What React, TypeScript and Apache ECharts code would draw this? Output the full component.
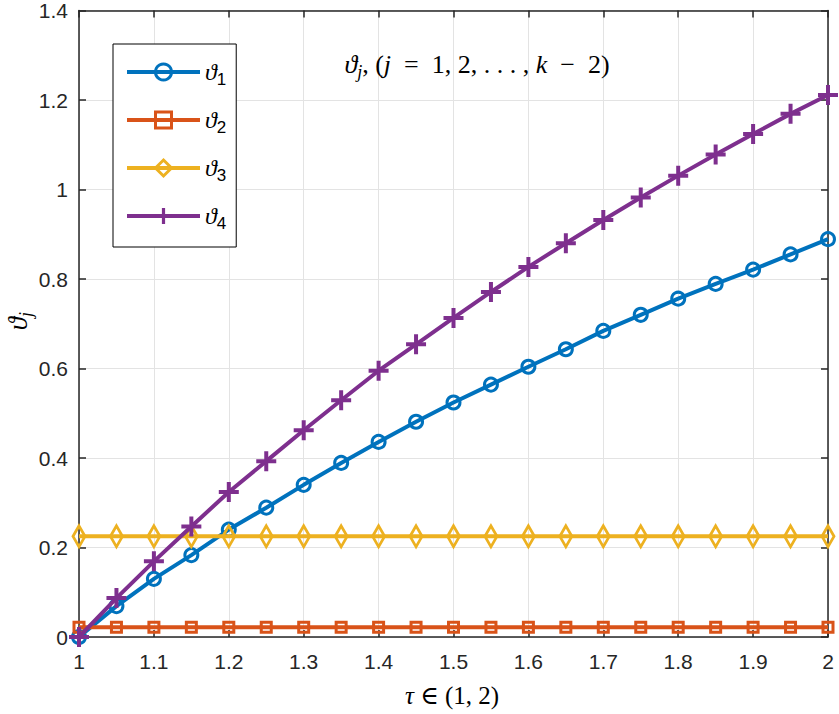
import React, { useEffect, useRef } from 'react';
import * as echarts from 'echarts';

const tau = [1, 1.05, 1.1, 1.15, 1.2, 1.25, 1.3, 1.35, 1.4, 1.45, 1.5, 1.55, 1.6, 1.65, 1.7, 1.75, 1.8, 1.85, 1.9, 1.95, 2];
const theta1 = [0, 0.069, 0.13, 0.183, 0.24, 0.289, 0.34, 0.389, 0.436, 0.481, 0.524, 0.564, 0.604, 0.643, 0.684, 0.72, 0.756, 0.789, 0.821, 0.855, 0.889];
const theta2 = [0.022, 0.022, 0.022, 0.022, 0.022, 0.022, 0.022, 0.022, 0.022, 0.022, 0.022, 0.022, 0.022, 0.022, 0.022, 0.022, 0.022, 0.022, 0.022, 0.022, 0.022];
const theta3 = [0.225, 0.225, 0.225, 0.225, 0.225, 0.225, 0.225, 0.225, 0.225, 0.225, 0.225, 0.225, 0.225, 0.225, 0.225, 0.225, 0.225, 0.225, 0.225, 0.225, 0.225];
const theta4 = [0, 0.087, 0.169, 0.247, 0.324, 0.393, 0.462, 0.529, 0.595, 0.654, 0.713, 0.771, 0.827, 0.88, 0.932, 0.982, 1.031, 1.078, 1.124, 1.169, 1.211];
const seriesNames = ['ϑ1', 'ϑ2', 'ϑ3', 'ϑ4'];
const colors = ['#0072BD', '#D95319', '#EDB120', '#7E2F8E'];

const xMin = 1, xMax = 2, xStep = 0.1;
const yMin = 0, yMax = 1.4, yStep = 0.2;

const PLUS = 'path://M4,0 h2 v4 h4 v2 h-4 v4 h-2 v-4 h-4 v-2 h4 z';
const SANS = '"Liberation Sans", Arial, Helvetica, sans-serif';
const SERIF = '"Liberation Serif", "DejaVu Serif", "Times New Roman", serif';
const AX = '#262626';

function mkSeries(i: number, data: number[], symbol: string, size: any, filled: boolean) {
  const c = colors[i];
  return {
    name: seriesNames[i],
    type: 'line',
    data: tau.map((x, k) => [x, data[k]]),
    symbol,
    symbolSize: size,
    showSymbol: true,
    showAllSymbol: true,
    clip: false,
    lineStyle: { color: c, width: 4 },
    itemStyle: filled
      ? { color: c, borderWidth: 0 }
      : { color: 'rgba(255,255,255,0)', borderColor: c, borderWidth: 3 },
    emphasis: { disabled: true },
    z: 2 + i,
  };
}

const mathRich = (fs: number, subFs: number, lh: number, subLh: number) => ({
  v: { fontFamily: SERIF, fontStyle: 'italic', fontSize: fs, lineHeight: lh, color: '#000', fill: '#000' },
  n: { fontFamily: SERIF, fontSize: fs, lineHeight: lh, color: '#000', fill: '#000' },
  s: { fontFamily: SERIF, fontStyle: 'italic', fontSize: subFs, lineHeight: subLh, verticalAlign: 'bottom', color: '#000', fill: '#000' },
  d: { fontFamily: SANS, fontSize: subFs, lineHeight: subLh, verticalAlign: 'bottom', color: '#000', fill: '#000' },
});

export default function App() {
  const ref = useRef<HTMLDivElement>(null);
  useEffect(() => {
    const chart = echarts.init(ref.current!, null, { renderer: 'svg' });
    const axisCommon = {
      type: 'value',
      axisLine: { show: true, onZero: false, lineStyle: { color: AX, width: 1.5 } },
      axisTick: { show: true, inside: true, length: 7, lineStyle: { color: AX, width: 1.5 } },
    };
    const option: any = {
      animation: false,
      backgroundColor: '#fff',
      grid: { left: 79, right: 11, top: 7, bottom: 77, containLabel: false },
      xAxis: [
        {
          ...axisCommon,
          min: xMin, max: xMax, interval: xStep, position: 'bottom',
          axisLabel: { color: AX, fontSize: 21, fontFamily: SANS, margin: 14 },
          splitLine: { show: true, lineStyle: { color: '#e3e3e3', width: 1 } },
        },
        {
          ...axisCommon,
          min: xMin, max: xMax, interval: xStep, position: 'top',
          axisLabel: { show: false },
          splitLine: { show: false },
        },
      ],
      yAxis: [
        {
          ...axisCommon,
          min: yMin, max: yMax, interval: yStep, position: 'left',
          axisLabel: { color: AX, fontSize: 21, fontFamily: SANS, margin: 11 },
          splitLine: { show: true, lineStyle: { color: '#e3e3e3', width: 1 } },
        },
        {
          ...axisCommon,
          min: yMin, max: yMax, interval: yStep, position: 'right',
          axisLabel: { show: false },
          splitLine: { show: false },
        },
      ],
      legend: {
        orient: 'vertical',
        left: 113,
        top: 44,
        padding: [16, 10, 15, 12],
        itemWidth: 73,
        itemHeight: 20,
        itemGap: 20,
        selectedMode: false,
        backgroundColor: '#fff',
        borderColor: '#000',
        borderWidth: 1,
        borderRadius: 0,
        lineStyle: { width: 4 },
        itemStyle: { borderWidth: 3 },
        data: seriesNames,
        formatter: (name: string) => `{v|ϑ}{d|${name.slice(1)}}`,
        textStyle: { rich: mathRich(24, 17, 32, 12) },
      },
      series: [
        mkSeries(0, theta1, 'circle', 13, false),
        mkSeries(1, theta2, 'rect', 10, false),
        mkSeries(2, theta3, 'diamond', [12, 21], false),
        mkSeries(3, theta4, PLUS, 20, true),
      ],
      graphic: [
        {
          type: 'text', x: 477, y: 64, z: 100,
          style: {
            text: '{v|ϑ}{s|j}{n|, (}{v|j}{n|  =  1, 2, . . . , }{v|k}{n|  −  2)}',
            rich: mathRich(26, 18, 34, 15),
            fill: '#000',
            align: 'center', verticalAlign: 'middle',
            textAlign: 'center', textVerticalAlign: 'middle',
          },
        },
        {
          type: 'text', x: 18, y: 321, rotation: Math.PI / 2, z: 100,
          style: {
            text: '{v|ϑ}{s|j}',
            rich: mathRich(27, 18, 34, 15),
            fill: '#000',
            align: 'center', verticalAlign: 'middle',
            textAlign: 'center', textVerticalAlign: 'middle',
          },
        },
        {
          type: 'text', x: 452, y: 695, z: 100,
          style: {
            text: '{v|τ}{n| ∈ (1, 2)}',
            rich: mathRich(25, 16, 30, 12),
            fill: '#000',
            align: 'center', verticalAlign: 'middle',
            textAlign: 'center', textVerticalAlign: 'middle',
          },
        },
      ],
    };
    chart.setOption(option);
    return () => chart.dispose();
  }, []);
  return (
    <div
      ref={ref}
      style={{ position: 'fixed', left: 0, top: 0, width: 839, height: 714, background: '#fff' }}
    />
  );
}
